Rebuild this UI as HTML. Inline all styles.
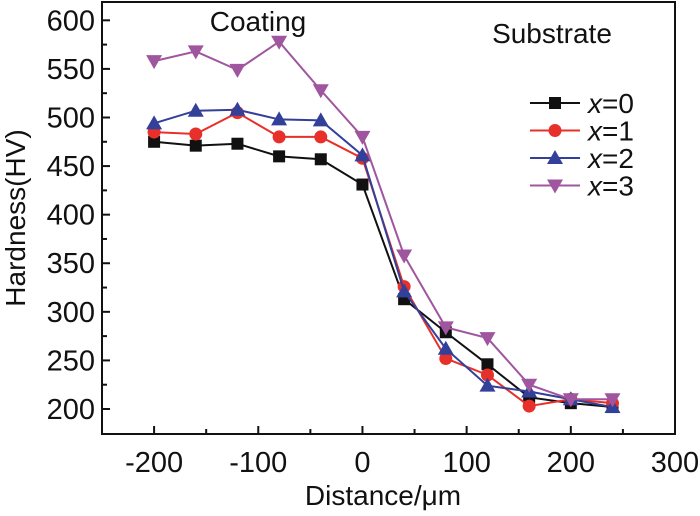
<!DOCTYPE html>
<html><head><meta charset="utf-8"><style>
body{margin:0;background:#fff}
svg text{font-family:"Liberation Sans",Arial,sans-serif;fill:#111}
</style></head><body>
<svg id="chart" width="700" height="511" xmlns="http://www.w3.org/2000/svg">
<g id="plot"></g>
</svg>
<script>
const xs = [-200,-160,-120,-80,-40,0,40,80,120,160,200,240];
const s0 = [475,471,473,460,457,431,313,279,246,212,206,202];
const s1 = [485,483,505,480,480,458,326,252,235,203,210,206];
const s2 = [494,507,508,498,497,461,321,262,224,218,210,202];
const s3 = [558,568,549,578,528,480,358,284,273,225,210,210];
const xTicks = [-200,-100,0,100,200,300];
const yTicks = [200,250,300,350,400,450,500,550,600];
const seriesNames = ["0","1","2","3"];

const L=102,R=675,T=2,B=434;
const X=v=>L+(v+250)/550*(R-L);
const Y=v=>409-(v-200)*0.9717;
const NS="http://www.w3.org/2000/svg";
const g=document.getElementById('plot');
function el(t,a,txt){const e=document.createElementNS(NS,t);for(const k in a)e.setAttribute(k,a[k]);if(txt!==undefined)e.textContent=txt;g.appendChild(e);return e;}

const frame=el('rect',{x:L,y:T,width:R-L,height:B-T,fill:'none',stroke:'#111','stroke-width':2});


for(let v=-200;v<=250;v+=50){const big=v%100===0;const t=el('line',{x1:X(v),x2:X(v),y1:B,y2:B-(big?8:5),stroke:'#111','stroke-width':2});

}
for(let v=200;v<=600;v+=25){const big=v%50===0;const t=el('line',{x1:L,x2:L+(big?8:5),y1:Y(v),y2:Y(v),stroke:'#111','stroke-width':2});

}
xTicks.forEach(v=>{const t=el('text',{x:X(v),y:472,'font-size':29,'text-anchor':'middle'},String(v));

});
yTicks.forEach(v=>{const t=el('text',{x:95,y:Y(v)+10,'font-size':29,'text-anchor':'end'},String(v));

});
const xt=el('text',{x:383,y:505,'font-size':28,'text-anchor':'middle'},'Distance/μm');


const yt=el('text',{x:0,y:0,'font-size':28,'text-anchor':'middle',transform:'translate(25,218) rotate(-90)'},'Hardness(HV)');


const c1=el('text',{x:258,y:31,'font-size':28,'text-anchor':'middle'},'Coating');


const c2=el('text',{x:552,y:43,'font-size':28,'text-anchor':'middle'},'Substrate');



const colors=['#111','#e8302a','#33409a','#a0559f'];
function marker(k,cx,cy){
 if(k===0)return el('rect',{x:cx-6,y:cy-6,width:12,height:12,fill:colors[0]});
 if(k===1)return el('circle',{cx:cx,cy:cy,r:6.5,fill:colors[1]});
 if(k===2)return el('polygon',{points:`${cx},${cy-8} ${cx-8},${cy+6} ${cx+8},${cy+6}`,fill:colors[2]});
 return el('polygon',{points:`${cx},${cy+8} ${cx-8},${cy-6} ${cx+8},${cy-6}`,fill:colors[3]});
}
[s0,s1,s2,s3].forEach((s,k)=>{
 const p=el('polyline',{points:s.map((v,i)=>X(xs[i])+','+Y(v)).join(' '),fill:'none',stroke:colors[k],'stroke-width':2});
 
 
 s.forEach((v,i)=>{const m=marker(k,X(xs[i]),Y(v));
 
 });
 const ly=103+k*27.5;
 const ll=el('line',{x1:530,x2:580,y1:ly,y2:ly,stroke:colors[k],'stroke-width':2});
 
 
 const lm=marker(k,555,ly);
 
 
 const lt=el('text',{x:588,y:ly+10,'font-size':28});
 lt.innerHTML='<tspan font-style="italic">x</tspan>='+seriesNames[k];
 
 
});
</script>
</body></html>
